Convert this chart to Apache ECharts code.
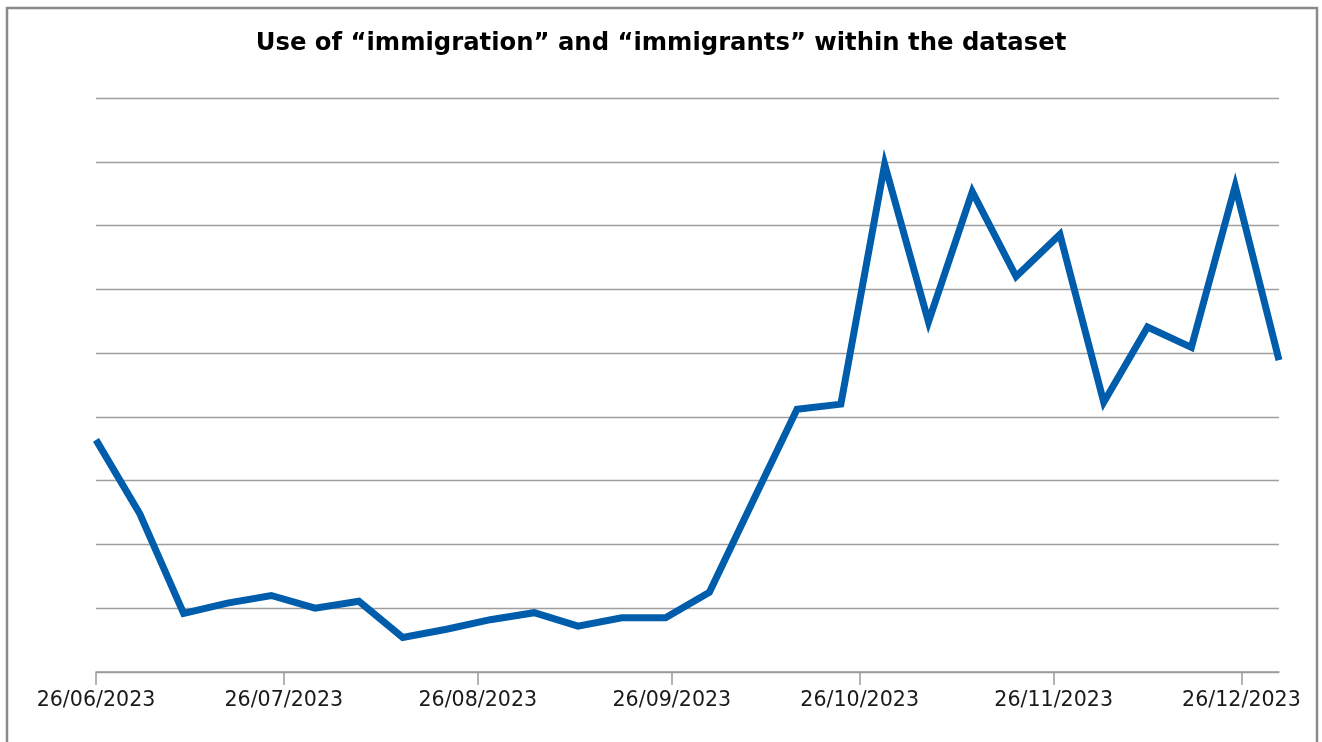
<!DOCTYPE html>
<html>
<head>
<meta charset="utf-8">
<script src="https://cdn.jsdelivr.net/npm/echarts@6/dist/echarts.min.js"></script>
<style>
  html, body { margin: 0; padding: 0; background: #ffffff; }
  #chart { width: 1322px; height: 742px; }
</style>
</head>
<body>
<div id="chart"></div>
<script>
// Weekly dates (Monday of each week)
const weeks = [
  '2023-06-26', '2023-07-03', '2023-07-10', '2023-07-17', '2023-07-24',
  '2023-07-31', '2023-08-07', '2023-08-14', '2023-08-21', '2023-08-28',
  '2023-09-04', '2023-09-11', '2023-09-18', '2023-09-25', '2023-10-02',
  '2023-10-09', '2023-10-16', '2023-10-23', '2023-10-30', '2023-11-06',
  '2023-11-13', '2023-11-20', '2023-11-27', '2023-12-04', '2023-12-11',
  '2023-12-18', '2023-12-25', '2024-01-01'
];

// Mentions of "immigration" / "immigrants" per week
const mentions = [
  36.4, 24.8, 9.2, 10.8, 12.0,
  10.0, 11.1, 5.4, 6.7, 8.2,
  9.3, 7.2, 8.5, 8.5, 12.5,
  26.9, 41.2, 42.0, 79.6, 54.9,
  75.3, 62.0, 68.6, 42.3, 54.1,
  50.9, 76.2, 48.9
];

// Dates shown on the horizontal axis
const tickDates = [
  '2023-06-26', '2023-07-26', '2023-08-26', '2023-09-26',
  '2023-10-26', '2023-11-26', '2023-12-26'
];

const titleText = 'Use of \u201cimmigration\u201d and \u201cimmigrants\u201d within the dataset';

// Dates are handled as day numbers (UTC) on a linear axis
const DAY = 86400000;
function toDay(s) {
  const p = s.split('-').map(Number);
  return Date.UTC(p[0], p[1] - 1, p[2]) / DAY;
}
function pad(n) { return (n < 10 ? '0' : '') + n; }
function fmt(v) {
  const d = new Date(Math.round(v) * DAY);
  return pad(d.getUTCDate()) + '/' + pad(d.getUTCMonth() + 1) + '/' + d.getUTCFullYear();
}

const tickValues = tickDates.map(toDay);
const seriesData = weeks.map((w, i) => [toDay(w), mentions[i]]);

const chart = echarts.init(document.getElementById('chart'), null, { renderer: 'canvas' });

chart.setOption({
  animation: false,
  backgroundColor: '#ffffff',
  title: {
    text: titleText,
    left: 'center',
    top: 27,
    textStyle: {
      fontFamily: 'DejaVu Sans',
      fontWeight: 'bold',
      fontSize: 24.3,
      color: '#000000'
    }
  },
  graphic: [{
    type: 'rect',
    shape: { x: 7, y: 8, width: 1310, height: 800 },
    style: { fill: 'none', stroke: '#8a8a8a', lineWidth: 2.5 },
    silent: true,
    z: -1
  }],
  grid: {
    left: 96,
    right: 43,
    top: 98,
    bottom: 70,
    containLabel: false
  },
  xAxis: {
    type: 'value',
    min: toDay(weeks[0]),
    max: toDay(weeks[weeks.length - 1]),
    axisLine: { show: true, lineStyle: { color: '#9a9a9a', width: 1.5 } },
    axisTick: {
      show: true,
      length: 13,
      customValues: tickValues,
      lineStyle: { color: '#9a9a9a', width: 1.5 }
    },
    axisLabel: {
      show: true,
      customValues: tickValues,
      formatter: fmt,
      margin: 18,
      fontFamily: 'DejaVu Sans',
      fontSize: 20.6,
      color: '#1a1a1a',
      showMinLabel: true,
      showMaxLabel: true,
      hideOverlap: false
    },
    splitLine: { show: false }
  },
  yAxis: {
    type: 'value',
    min: 0,
    max: 90,
    interval: 10,
    axisLine: { show: false },
    axisTick: { show: false },
    axisLabel: { show: false },
    splitLine: { show: true, lineStyle: { color: '#9e9e9e', width: 1.4 } }
  },
  series: [{
    type: 'line',
    data: seriesData,
    showSymbol: false,
    symbol: 'none',
    lineStyle: { color: '#005dab', width: 7, join: 'miter', cap: 'butt' },
    z: 3
  }]
});
</script>
</body>
</html>
